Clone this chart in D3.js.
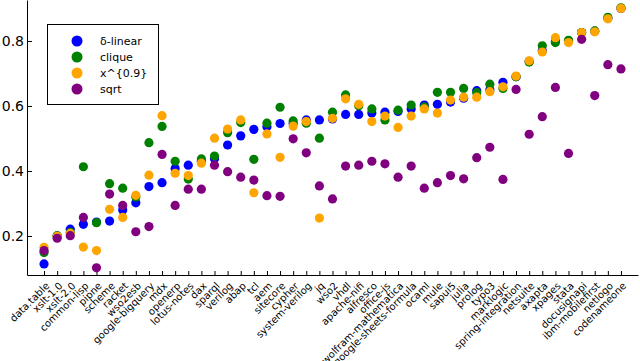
<!DOCTYPE html>
<html>
<head>
<meta charset="utf-8">
<script src="https://cdn.jsdelivr.net/npm/d3@7"></script>
<style>
    body { margin: 0; background: #fff; }
    text { font-family: "DejaVu Sans", sans-serif; }
</style>
</head>
<body>
<svg id="chart" width="640" height="361"></svg>
<script>
var categories = ['data.table', 'xslt-1.0', 'xslt-2.0', 'common-lisp', 'pipne', 'scheme', 'racket',
    'wso2esb', 'google-bigquery', 'mdx', 'openerp', 'lotus-notes', 'dax', 'sparql', 'verilog', 'abap',
    'tcl', 'aem', 'sitecore', 'cypher', 'system-verilog', 'jq', 'wso2', 'vhdl', 'apache-nifi', 'alfresco',
    'office-js', 'wolfram-mathematica', 'google-sheets-formula', 'ocaml', 'mule', 'sapui5', 'julia',
    'prolog', 'typo3', 'marklogic', 'spring-integration', 'netsuite', 'axapta', 'xpages', 'stata',
    'docusignapi', 'ibm-mobilefirst', 'netlogo', 'codenameone'];

var deltaLinear = [0.114, 0.200, 0.221, 0.236, 0.243, 0.246, 0.280, 0.302, 0.352, 0.364, 0.408, 0.418,
    0.430, 0.438, 0.480, 0.508, 0.528, 0.536, 0.546, 0.545, 0.557, 0.557, 0.560, 0.574, 0.574, 0.578,
    0.581, 0.583, 0.591, 0.603, 0.605, 0.612, 0.624, 0.647, 0.650, 0.673, 0.690, 0.737, 0.770, 0.800,
    0.800, 0.826, 0.830, 0.870, 0.900];
var clique = [0.149, 0.201, 0.211, 0.413, 0.241, 0.361, 0.347, 0.320, 0.487, 0.537, 0.430, 0.375,
    0.437, 0.446, 0.518, 0.549, 0.436, 0.547, 0.596, 0.554, 0.547, 0.501, 0.581, 0.634, 0.601, 0.591,
    0.557, 0.587, 0.603, 0.597, 0.642, 0.642, 0.654, 0.641, 0.667, 0.654, 0.690, 0.735, 0.785, 0.795,
    0.802, 0.826, 0.831, 0.873, 0.902];
var power09 = [0.165, 0.199, 0.208, 0.166, 0.155, 0.282, 0.257, 0.325, 0.387, 0.570, 0.393, 0.386,
    0.424, 0.501, 0.529, 0.557, 0.333, 0.514, 0.442, 0.538, 0.552, 0.255, 0.562, 0.622, 0.605, 0.552,
    0.569, 0.534, 0.569, 0.591, 0.578, 0.618, 0.627, 0.627, 0.644, 0.659, 0.692, 0.739, 0.766, 0.810,
    0.795, 0.826, 0.828, 0.868, 0.900];
var sqrtVals = [0.155, 0.193, 0.201, 0.257, 0.102, 0.329, 0.294, 0.213, 0.229, 0.451, 0.294, 0.344,
    0.344, 0.418, 0.398, 0.381, 0.372, 0.324, 0.322, 0.499, 0.456, 0.354, 0.314, 0.415, 0.418, 0.430,
    0.422, 0.381, 0.415, 0.347, 0.364, 0.386, 0.376, 0.441, 0.473, 0.374, 0.651, 0.513, 0.567, 0.657,
    0.454, 0.805, 0.632, 0.727, 0.714];

var yTicks = [0.2, 0.4, 0.6, 0.8];

var series = [
    {name: 'δ-linear', color: '#0000ff', values: deltaLinear},
    {name: 'clique', color: '#008000', values: clique},
    {name: 'x^{0.9}', color: '#ffa500', values: power09},
    {name: 'sqrt', color: '#800080', values: sqrtVals}
];

var margin = {left: 27, right: 638, top: 0, bottom: 275};

var svg = d3.select('#chart');

var xScale = d3.scalePoint()
    .domain(categories)
    .range([margin.left, margin.right])
    .padding(1.3);

var yScale = d3.scaleLinear()
    .domain([0.08, 0.926])
    .range([margin.bottom, margin.top]);

// X Axis
var xAxis = svg.append('g')
    .attr('transform', `translate(0, ${margin.bottom})`)
    .call(d3.axisBottom(xScale).tickSizeInner(-4).tickSizeOuter(0).tickPadding(0));
xAxis.selectAll('text')
    .attr('font-size', 10)
    .attr('fill', '#000')
    .attr('text-anchor', 'end')
    .attr('dy', '0.35em')
    .attr('y', 0)
    .attr('transform', 'translate(3, 9) rotate(-45)');

// Y Axis
var yAxis = svg.append('g')
    .attr('transform', `translate(${margin.left}, 0)`)
    .call(d3.axisLeft(yScale).tickValues(yTicks).tickFormat(d3.format('.1f'))
        .tickSizeInner(-5).tickSizeOuter(0).tickPadding(3));
yAxis.selectAll('text')
    .attr('font-size', 14)
    .attr('fill', '#000');

svg.selectAll('.domain, .tick line').attr('stroke', '#000');

// Points
series.forEach(s => {
    svg.append('g')
        .selectAll('circle')
        .data(s.values)
        .enter()
        .append('circle')
        .attr('cx', (d, i) => xScale(categories[i]))
        .attr('cy', d => yScale(d))
        .attr('r', 4.6)
        .attr('fill', s.color);
});

// Legend
var legend = svg.append('g');
legend.append('rect')
    .attr('x', 47.5)
    .attr('y', 24.5)
    .attr('width', 111)
    .attr('height', 80)
    .attr('fill', '#fff')
    .attr('stroke', '#000');
series.forEach((s, i) => {
    var yPos = 41 + 16 * i;
    legend.append('circle')
        .attr('cx', 77)
        .attr('cy', yPos)
        .attr('r', 5.5)
        .attr('fill', s.color);
    legend.append('text')
        .attr('x', 100)
        .attr('y', yPos)
        .attr('dy', '0.35em')
        .attr('font-size', 11)
        .text(s.name);
});
</script>
</body>
</html>
